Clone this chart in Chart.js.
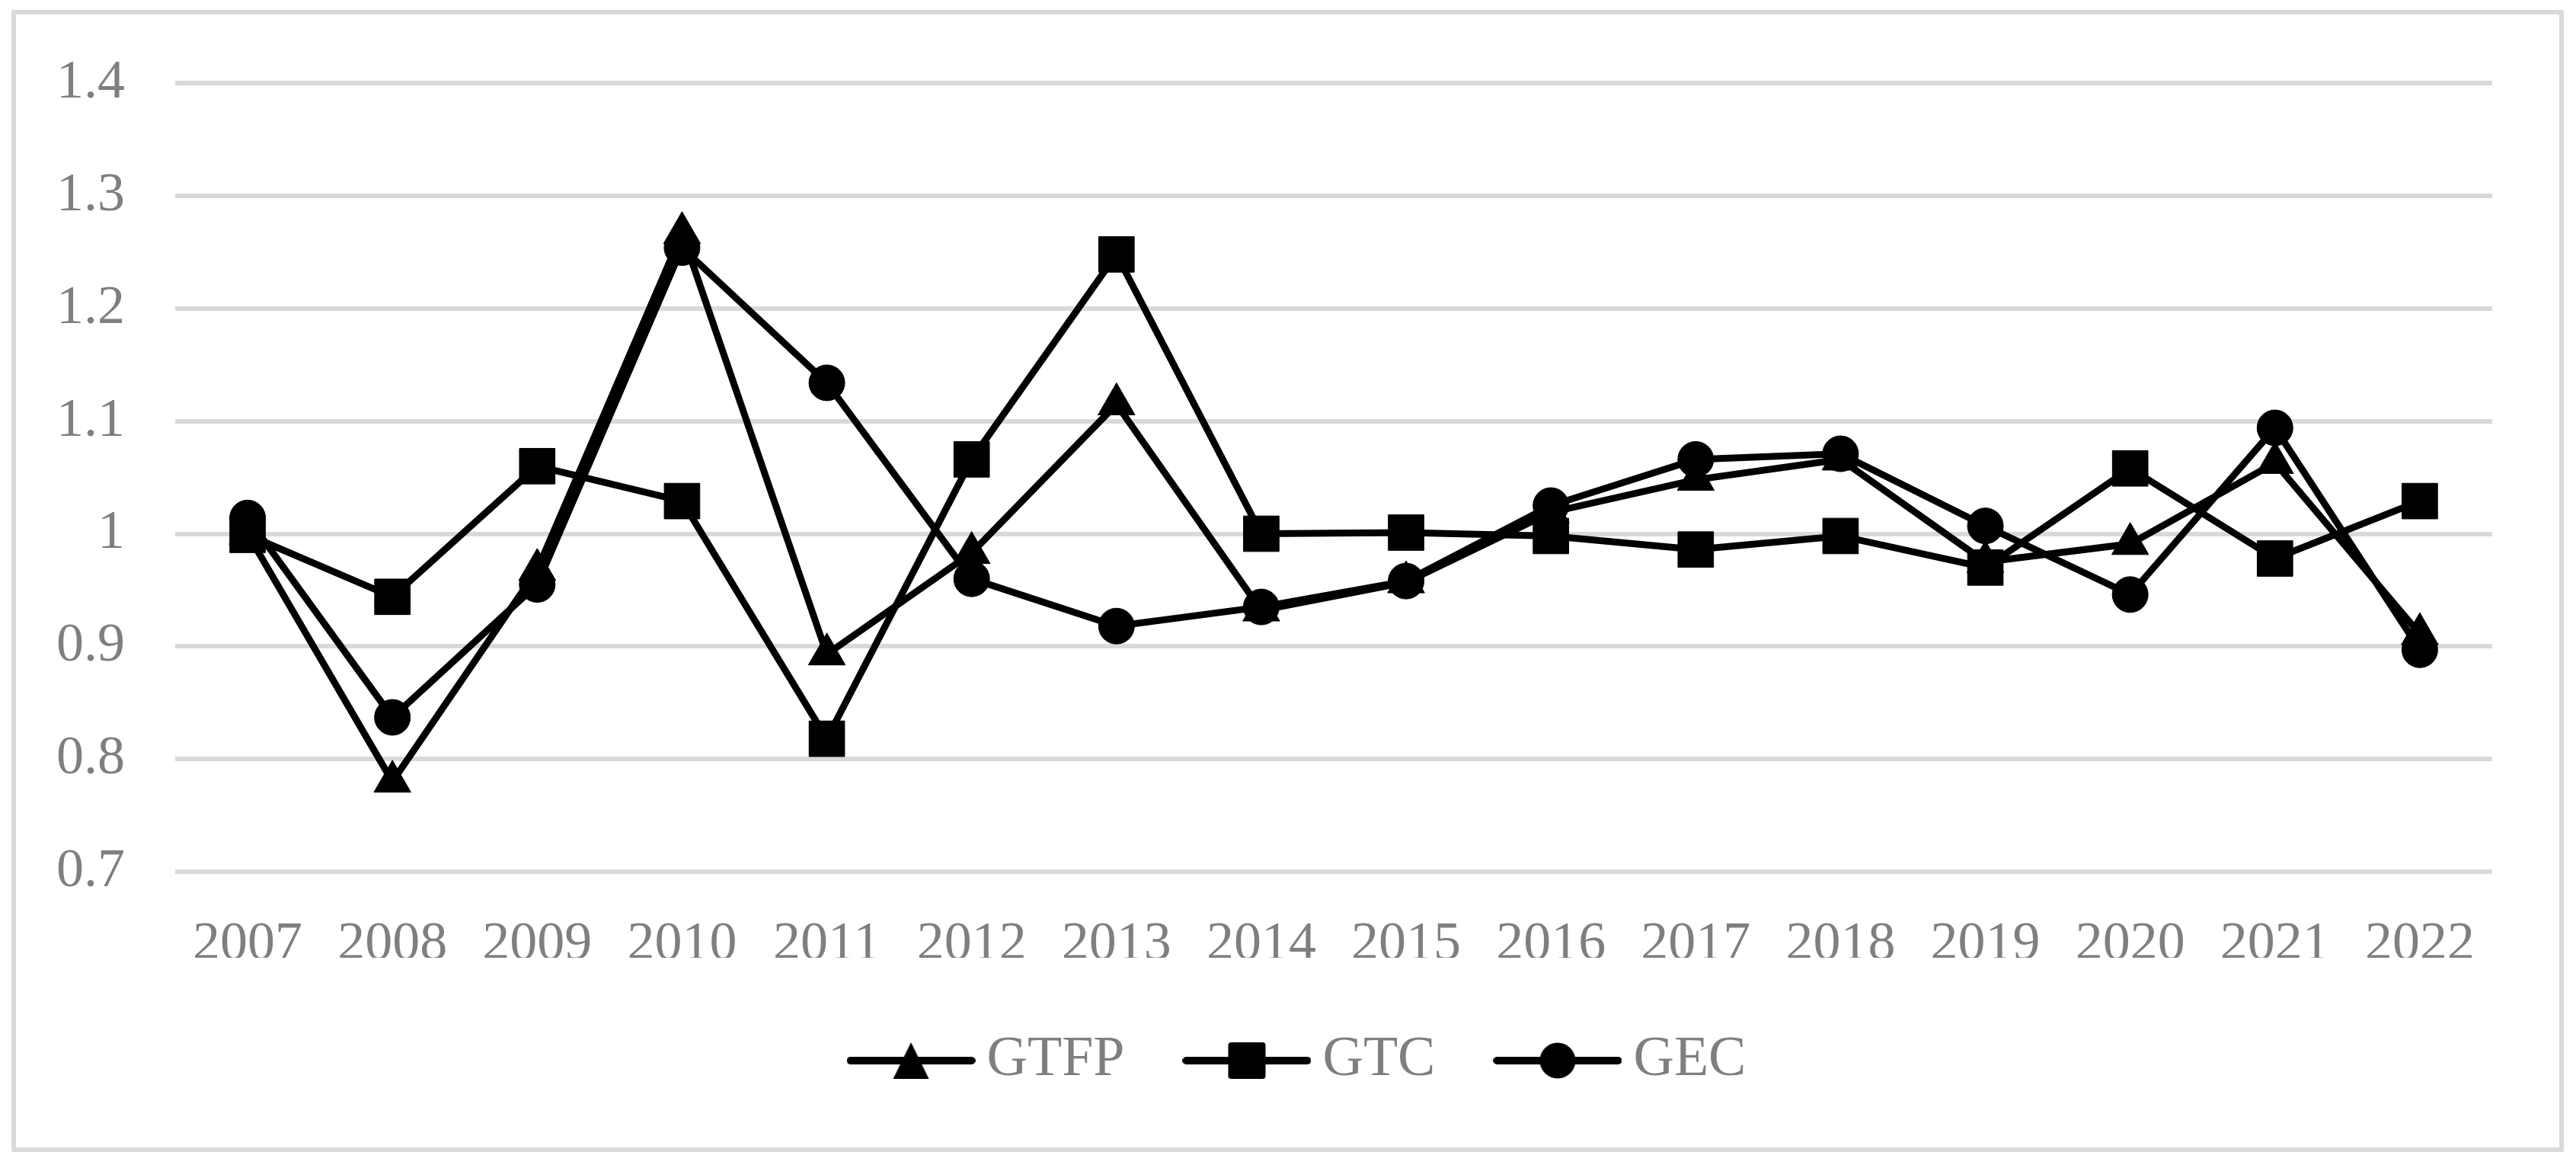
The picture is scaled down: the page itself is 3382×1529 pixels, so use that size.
<!DOCTYPE html>
<html>
<head>
<meta charset="utf-8">
<script src="https://cdn.jsdelivr.net/npm/chart.js@4"></script>
<style>
  html, body { margin: 0; padding: 0; background: #fff; }
  #wrap { position: relative; width: 3382px; height: 1529px; }
  #frame {
    position: absolute; left: 15px; top: 13px; width: 3351px; height: 1499px;
    border: 6px solid #d9d9d9; box-sizing: border-box; border-radius: 3px; pointer-events: none;
  }
</style>
</head>
<body>
<div id="wrap">
  <canvas id="chart"></canvas>
  <div id="frame"></div>
</div>
<script>
// Data
const years = ['2007', '2008', '2009', '2010', '2011', '2012', '2013', '2014',
  '2015', '2016', '2017', '2018', '2019', '2020', '2021', '2022'];
const gtfp = [1.000, 0.780, 0.968, 1.267, 0.893, 0.983, 1.115, 0.932,
  0.957, 1.019, 1.048, 1.066, 0.975, 0.991, 1.063, 0.911];
const gtc = [0.999, 0.944, 1.060, 1.029, 0.818, 1.066, 1.248, 1.000,
  1.001, 0.998, 0.986, 0.998, 0.970, 1.058, 0.978, 1.029];
const gec = [1.014, 0.837, 0.955, 1.254, 1.134, 0.960, 0.918, 0.935,
  0.958, 1.025, 1.066, 1.071, 1.007, 0.946, 1.094, 0.897];
const yTickLabels = ['0.7', '0.8', '0.9', '1', '1.1', '1.2', '1.3', '1.4'];

const FONT = '"Liberation Serif", "Times New Roman", serif';
const GREY = '#7f7f7f';

// legend swatch: line with marker in the middle
function legendSwatch(shape) {
  const c = document.createElement('canvas');
  c.width = 169;
  c.height = 60;
  const g = c.getContext('2d');
  g.strokeStyle = '#000';
  g.fillStyle = '#000';
  g.lineWidth = 10;
  g.lineCap = 'round';
  g.beginPath();
  g.moveTo(5, 30);
  g.lineTo(164, 30);
  g.stroke();
  g.beginPath();
  if (shape === 'triangle') {
    g.moveTo(84.5, 6);
    g.lineTo(108, 54);
    g.lineTo(61, 54);
    g.closePath();
  } else if (shape === 'rect') {
    g.roundRect(60, 6, 49, 48, 4);
  } else {
    g.arc(84.5, 30, 23.5, 0, Math.PI * 2);
  }
  g.fill();
  return c;
}

function series(label, data, shape, radius, order) {
  return {
    label,
    data,
    order,
    borderColor: '#000',
    borderWidth: 9,
    tension: 0,
    pointStyle: shape,
    pointRadius: radius,
    pointHoverRadius: radius,
    pointBackgroundColor: '#000',
    pointBorderColor: '#000',
    pointBorderWidth: 1,
    swatch: legendSwatch(shape)
  };
}

new Chart(document.getElementById('chart'), {
  type: 'line',
  data: {
    labels: years,
    datasets: [
      series('GTFP', gtfp, 'triangle', 28, 3),
      series('GTC', gtc, 'rect', 33, 2),
      series('GEC', gec, 'circle', 23.5, 1)
    ]
  },
  options: {
    responsive: true,
    maintainAspectRatio: false,
    animation: false,
    layout: { padding: { left: 44, right: 0, top: 105, bottom: 90 } },
    plugins: {
      tooltip: { enabled: false },
      legend: {
        position: 'bottom',
        labels: {
          usePointStyle: true,
          pointStyleWidth: 125,
          padding: 98,
          color: GREY,
          font: { family: FONT, size: 74 },
          generateLabels: chart => chart.data.datasets.map((ds, i) => ({
            text: ds.label,
            pointStyle: ds.swatch,
            fillStyle: '#000',
            strokeStyle: '#000',
            lineWidth: 0,
            hidden: false,
            fontColor: GREY,
            datasetIndex: i
          }))
        }
      }
    },
    scales: {
      x: {
        offset: true,
        grid: { display: false },
        border: { display: false },
        ticks: {
          color: GREY,
          padding: 45,
          maxRotation: 0,
          autoSkip: false,
          font: { family: FONT, size: 72 }
        },
        afterFit: s => { s.height = 113; }
      },
      y: {
        min: 0.7,
        max: 1.4,
        grid: { color: '#d9d9d9', lineWidth: 6, drawTicks: false },
        border: { display: false },
        ticks: {
          stepSize: 0.1,
          color: GREY,
          padding: 66,
          font: { family: FONT, size: 72 },
          callback: (v, i) => yTickLabels[i]
        },
        afterFit: s => { s.width = 186; }
      },
      // empty right-hand margin, keeps the plot end at the reference position
      yRight: {
        position: 'right',
        min: 0.7,
        max: 1.4,
        grid: { display: false },
        border: { display: false },
        ticks: { display: false },
        afterFit: s => { s.width = 110; }
      }
    }
  }
});
</script>
</body>
</html>
